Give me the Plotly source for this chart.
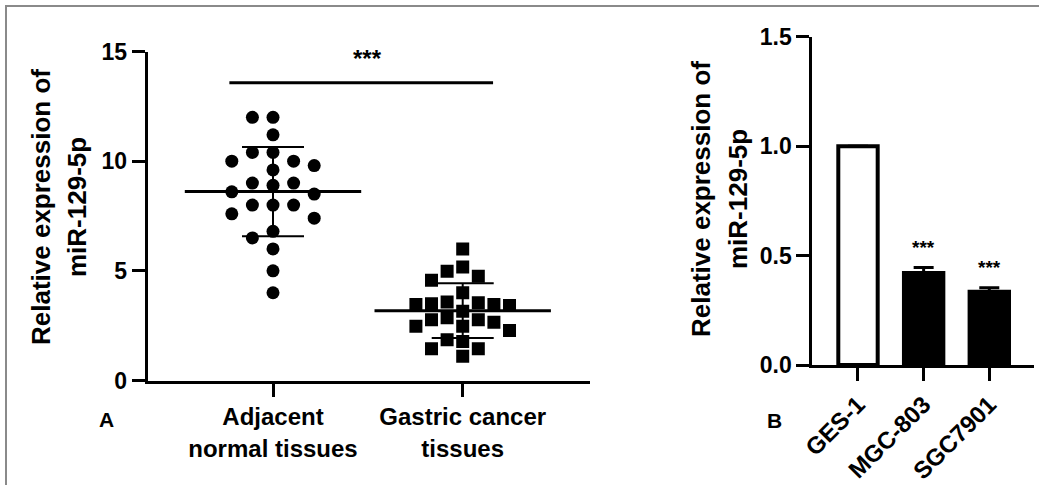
import plotly.graph_objects as go
import numpy as np

W, H = 1039, 485

# ---------------- data ----------------
groups_a = ["Adjacent<br>normal tissues", "Gastric cancer<br>tissues"]
adjacent = [12.0, 12.0, 11.2, 10.4, 10.4, 10.0, 10.0, 9.8, 9.6, 9.0, 9.0, 8.9,
            8.6, 8.5, 8.0, 8.0, 8.0, 7.6, 7.4, 6.8, 6.5, 6.0, 5.0, 4.0]
gastric = [6.0, 5.17, 4.98, 4.75, 4.57, 4.0, 3.58, 3.55, 3.5, 3.47, 3.47, 3.42,
           3.16, 2.86, 2.77, 2.77, 2.66, 2.47, 2.47, 2.28, 1.86, 1.78, 1.45, 1.45, 1.1]
left_yticks = [0, 5, 10, 15]

cell_lines = ["GES-1", "MGC-803", "SGC7901"]
cell_means = [1.0, 0.42, 0.335]
cell_errs = [0.0, 0.025, 0.018]
right_yticks = [0.0, 0.5, 1.0, 1.5]
right_ytext = ["0.0", "0.5", "1.0", "1.5"]

# ---------------- layout geometry (pixels) ----------------
L_X0, L_X1 = 147.7, 590.0
L_Y0, L_Y1 = 380.5, 51.5
L_XR = [0.3395, 2.671]
R_X0, R_X1 = 812.3, 1034.0
R_Y0, R_Y1 = 365.0, 36.7
R_XR = [-0.696, 2.681]

FONT = "Liberation Sans, Arial, sans-serif"

px_per_y_left = (L_Y0 - L_Y1) / 15.0
px_per_x_left = (L_X1 - L_X0) / (L_XR[1] - L_XR[0])


def swarm(values, step, dy_min):
    """Simple greedy beeswarm: returns horizontal offsets in data units."""
    order = sorted(range(len(values)), key=lambda i: -values[i])
    placed = []
    offs = [0.0] * len(values)
    cands = [0]
    for j in range(1, 30):
        cands += [-j, j]
    for i in order:
        y = values[i] * px_per_y_left
        for c in cands:
            cx = c * step
            ok = all(not (abs(cx - px) < 2 * step - 0.01 and abs(y - py) < dy_min)
                     for px, py in placed)
            if ok:
                break
        placed.append((cx, y))
        offs[i] = cx / px_per_x_left
    return offs


off_a = swarm(adjacent, 10.3, 14.0)
off_g = swarm(gastric, 7.8, 13.5)

mean_a, sd_a = float(np.mean(adjacent)), float(np.std(adjacent, ddof=1))
mean_g, sd_g = float(np.mean(gastric)), float(np.std(gastric, ddof=1))

fig = go.Figure()

fig.add_trace(go.Scatter(
    x=[1 + o for o in off_a], y=adjacent, mode="markers",
    marker=dict(symbol="circle", size=13, color="black", line=dict(width=0)),
    xaxis="x", yaxis="y", hoverinfo="y"))
fig.add_trace(go.Scatter(
    x=[2 + o for o in off_g], y=gastric, mode="markers",
    marker=dict(symbol="square", size=13, color="black", line=dict(width=0)),
    xaxis="x", yaxis="y", hoverinfo="y"))
fig.add_trace(go.Scatter(
    x=[1, 2], y=[mean_a, mean_g], mode="markers",
    marker=dict(symbol="line-ew", size=126, color="black",
                line=dict(width=3, color="black")),
    error_y=dict(type="data", array=[sd_a, sd_g], width=31, thickness=2,
                 color="black"),
    xaxis="x", yaxis="y", hoverinfo="skip"))

fig.add_trace(go.Bar(
    x=cell_lines, y=cell_means, width=0.6,
    marker=dict(color=["white", "black", "black"],
                line=dict(color="black", width=4)),
    error_y=dict(type="data", symmetric=False, array=cell_errs,
                 arrayminus=[0, 0, 0], width=10, thickness=3, color="black"),
    xaxis="x2", yaxis="y2"))

axis_common = dict(showline=True, linewidth=3, linecolor="black", ticks="outside",
                   ticklen=13, tickwidth=3, tickcolor="black", showgrid=False,
                   zeroline=False, fixedrange=True, automargin=False)

fig.update_layout(
    width=W, height=H,
    margin=dict(l=0, r=0, t=0, b=0, pad=0, autoexpand=False),
    paper_bgcolor="white", plot_bgcolor="white",
    showlegend=False,
    font=dict(family=FONT, color="black"),
    xaxis=dict(domain=[L_X0 / W, L_X1 / W], range=L_XR, anchor="y",
               tickvals=[1, 2], ticktext=groups_a,
               tickfont=dict(size=24, weight="bold", family=FONT), **axis_common),
    yaxis=dict(domain=[1 - L_Y0 / H, 1 - L_Y1 / H], range=[0, 15], anchor="x",
               tickvals=left_yticks,
               tickfont=dict(size=23, weight="bold", family=FONT), **axis_common),
    xaxis2=dict(domain=[R_X0 / W, R_X1 / W], range=R_XR, anchor="y2",
                type="category", tickangle=-45,
                tickfont=dict(size=24, weight="bold", family=FONT), **axis_common),
    yaxis2=dict(domain=[1 - R_Y0 / H, 1 - R_Y1 / H], range=[0, 1.5], anchor="x2",
                tickvals=right_yticks, ticktext=right_ytext,
                tickfont=dict(size=23, weight="bold", family=FONT), **axis_common),
)

# significance bar on the left panel
fig.add_shape(type="line", xref="x", yref="y", x0=0.77, x1=2.16, y0=13.58, y1=13.58,
              line=dict(color="black", width=3))

ann = []
ann.append(dict(xref="x", yref="y", x=1.5, y=14.66, text="***", showarrow=False,
                xanchor="center", yanchor="middle",
                font=dict(size=24, weight="bold", family=FONT)))
for i in (1, 2):
    ann.append(dict(xref="x2", yref="y2", x=cell_lines[i], y=cell_means[i] + cell_errs[i],
                    yshift=20, text="***", showarrow=False, xanchor="center",
                    yanchor="middle",
                    font=dict(size=19, weight="bold", family=FONT)))

title_font = dict(size=26, weight="bold", family=FONT, color="black")
for xp, yp, txt in [(41, 207, "Relative expression of"), (77, 207, "miR-129-5p"),
                    (701, 199, "Relative expression of"), (738, 199, "miR-129-5p")]:
    ann.append(dict(xref="paper", yref="paper", x=xp / W, y=1 - yp / H, text=txt,
                    textangle=-90, showarrow=False, xanchor="center", yanchor="middle",
                    font=title_font))

ann.append(dict(xref="paper", yref="paper", x=106 / W, y=1 - 419 / H, text="A",
                showarrow=False, xanchor="center", yanchor="middle",
                font=dict(size=21, weight="bold", family=FONT)))
ann.append(dict(xref="paper", yref="paper", x=774 / W, y=1 - 420 / H, text="B",
                showarrow=False, xanchor="center", yanchor="middle",
                font=dict(size=21, weight="bold", family=FONT)))
fig.update_layout(annotations=ann)

# frame of the figure (only left and top edges visible)
fig.add_shape(type="rect", xref="paper", yref="paper", x0=6 / W, x1=1.05,
              y0=-0.05, y1=1 - 6 / H, line=dict(color="#8a8a8a", width=2),
              fillcolor="rgba(0,0,0,0)", layer="above")

fig.write_html(
    "out.html",
    config={"displayModeBar": False},
    post_script="document.body.style.margin='0';document.body.style.overflow='hidden';",
)
